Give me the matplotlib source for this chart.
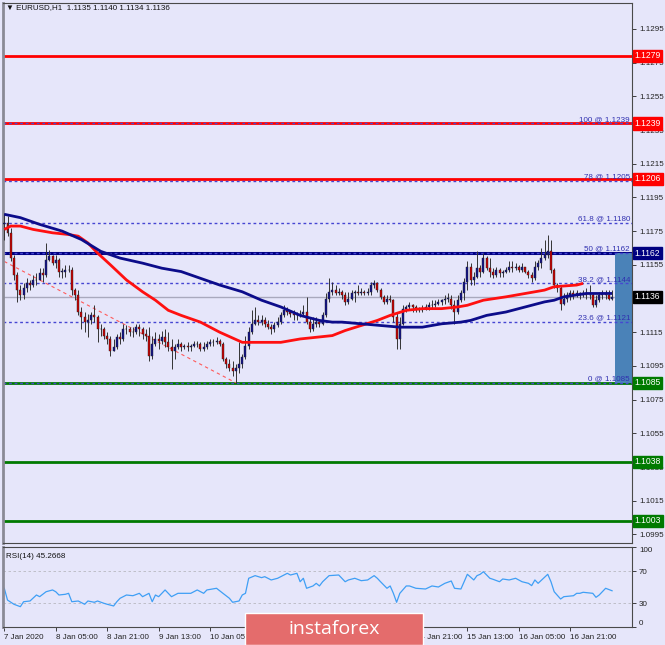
import numpy as np
import matplotlib
matplotlib.use("Agg")
import matplotlib.pyplot as plt
import matplotlib.transforms as mtransforms
from matplotlib.patches import Rectangle

plt.rcParams['font.family'] = ['Liberation Sans', 'DejaVu Sans']

# EURUSD H1 candles (open of each bar = previous close)
first_open = 1.1179
closes = [
    1.1180, 1.1174, 1.1159, 1.1149, 1.1140, 1.1137, 1.1141, 1.1144, 1.1143, 1.1146,
    1.1146, 1.1150, 1.1149, 1.1158, 1.1160, 1.1156, 1.1158, 1.1151, 1.1151, 1.1152,
    1.1152, 1.1140, 1.1137, 1.1127, 1.1124, 1.1121, 1.1122, 1.1125, 1.1124, 1.1117,
    1.1117, 1.1113, 1.1111, 1.1104, 1.1106, 1.1112, 1.1111, 1.1117, 1.1117, 1.1115,
    1.1115, 1.1118, 1.1117, 1.1114, 1.1113, 1.1101, 1.1108, 1.1111, 1.1110, 1.1112,
    1.1109, 1.1106, 1.1104, 1.1106, 1.1108, 1.1106, 1.1107, 1.1106, 1.1107, 1.1108,
    1.1108, 1.1105, 1.1106, 1.1108, 1.1109, 1.1109, 1.1110, 1.1108, 1.1099, 1.1096,
    1.1094, 1.1092, 1.1094, 1.1096, 1.1100, 1.1107, 1.1115, 1.1120, 1.1122, 1.1121,
    1.1122, 1.1120, 1.1118, 1.1117, 1.1119, 1.1121, 1.1125, 1.1128, 1.1127, 1.1126,
    1.1125, 1.1125, 1.1126, 1.1127, 1.1121, 1.1117, 1.1120, 1.1121, 1.1120, 1.1125,
    1.1135, 1.1139, 1.1140, 1.1138, 1.1139, 1.1137, 1.1133, 1.1135, 1.1138, 1.1139,
    1.1138, 1.1139, 1.1138, 1.1139, 1.1143, 1.1144, 1.1140, 1.1136, 1.1133, 1.1135,
    1.1134, 1.1124, 1.1111, 1.1120, 1.1129, 1.1130, 1.1131, 1.1130, 1.1128, 1.1128,
    1.1129, 1.1130, 1.1131, 1.1131, 1.1132, 1.1133, 1.1134, 1.1135, 1.1135, 1.1131,
    1.1127, 1.1134, 1.1138, 1.1145, 1.1154, 1.1146, 1.1148, 1.1153, 1.1151, 1.1159,
    1.1153, 1.1151, 1.1149, 1.1152, 1.1150, 1.1151, 1.1152, 1.1154, 1.1153, 1.1154,
    1.1152, 1.1154, 1.1151, 1.1149, 1.1147, 1.1154, 1.1156, 1.1159, 1.1161, 1.1163,
    1.1152, 1.1143, 1.1141, 1.1132, 1.1135, 1.1137, 1.1138, 1.1137, 1.1138, 1.1137,
    1.1138, 1.1137, 1.1137, 1.1131, 1.1134, 1.1137, 1.1138, 1.1137, 1.1135, 1.1136,
]
highs = [
    1.1186, 1.1184, 1.1177, 1.1161, 1.1151, 1.1143, 1.1144, 1.1147, 1.1146, 1.1149,
    1.1150, 1.1153, 1.1153, 1.1168, 1.1164, 1.1161, 1.1161, 1.1159, 1.1153, 1.1155,
    1.1155, 1.1154, 1.1141, 1.1140, 1.1130, 1.1127, 1.1126, 1.1127, 1.1131, 1.1125,
    1.1120, 1.1118, 1.1115, 1.1113, 1.1111, 1.1114, 1.1115, 1.1120, 1.1119, 1.1118,
    1.1118, 1.1120, 1.1120, 1.1118, 1.1117, 1.1118, 1.1113, 1.1115, 1.1114, 1.1116,
    1.1117, 1.1115, 1.1111, 1.1108, 1.1111, 1.1109, 1.1108, 1.1109, 1.1108, 1.1110,
    1.1110, 1.1109, 1.1109, 1.1110, 1.1111, 1.1111, 1.1112, 1.1111, 1.1109, 1.1100,
    1.1099, 1.1098, 1.1096, 1.1109, 1.1102, 1.1113, 1.1118, 1.1128, 1.1130, 1.1125,
    1.1125, 1.1124, 1.1122, 1.1120, 1.1121, 1.1124, 1.1127, 1.1131, 1.1130, 1.1128,
    1.1128, 1.1127, 1.1128, 1.1131, 1.1136, 1.1124, 1.1124, 1.1124, 1.1122, 1.1127,
    1.1138, 1.1147, 1.1145, 1.1143, 1.1141, 1.1140, 1.1139, 1.1139, 1.1140, 1.1140,
    1.1143, 1.1141, 1.1140, 1.1141, 1.1145, 1.1146, 1.1145, 1.1141, 1.1137, 1.1137,
    1.1137, 1.1135, 1.1127, 1.1124, 1.1131, 1.1131, 1.1133, 1.1132, 1.1131, 1.1130,
    1.1131, 1.1132, 1.1133, 1.1134, 1.1134, 1.1135, 1.1135, 1.1137, 1.1138, 1.1137,
    1.1134, 1.1137, 1.1140, 1.1147, 1.1157, 1.1156, 1.1151, 1.1163, 1.1155, 1.1162,
    1.1160, 1.1159, 1.1153, 1.1154, 1.1153, 1.1152, 1.1154, 1.1157, 1.1157, 1.1156,
    1.1155, 1.1156, 1.1154, 1.1152, 1.1151, 1.1157, 1.1158, 1.1165, 1.1170, 1.1173,
    1.1170, 1.1153, 1.1144, 1.1143, 1.1138, 1.1139, 1.1140, 1.1140, 1.1140, 1.1139,
    1.1140, 1.1141, 1.1143, 1.1138, 1.1137, 1.1139, 1.1140, 1.1140, 1.1140, 1.1140,
]
lows = [
    1.1170, 1.1172, 1.1157, 1.1146, 1.1133, 1.1134, 1.1135, 1.1139, 1.1140, 1.1142,
    1.1143, 1.1146, 1.1145, 1.1148, 1.1157, 1.1155, 1.1153, 1.1148, 1.1147, 1.1148,
    1.1151, 1.1137, 1.1134, 1.1125, 1.1117, 1.1115, 1.1112, 1.1120, 1.1121, 1.1109,
    1.1113, 1.1111, 1.1108, 1.1101, 1.1104, 1.1105, 1.1108, 1.1110, 1.1114, 1.1113,
    1.1112, 1.1114, 1.1113, 1.1111, 1.1110, 1.1098, 1.1099, 1.1107, 1.1105, 1.1108,
    1.1106, 1.1104, 1.1093, 1.1099, 1.1105, 1.1104, 1.1105, 1.1104, 1.1104, 1.1106,
    1.1106, 1.1104, 1.1104, 1.1105, 1.1107, 1.1107, 1.1108, 1.1107, 1.1098, 1.1094,
    1.1092, 1.1089, 1.1085, 1.1091, 1.1094, 1.1099, 1.1105, 1.1114, 1.1119, 1.1119,
    1.1119, 1.1118, 1.1117, 1.1114, 1.1115, 1.1118, 1.1120, 1.1124, 1.1125, 1.1124,
    1.1122, 1.1122, 1.1124, 1.1125, 1.1120, 1.1115, 1.1116, 1.1118, 1.1118, 1.1119,
    1.1124, 1.1133, 1.1137, 1.1137, 1.1137, 1.1135, 1.1131, 1.1132, 1.1134, 1.1133,
    1.1137, 1.1137, 1.1137, 1.1137, 1.1137, 1.1141, 1.1139, 1.1135, 1.1132, 1.1132,
    1.1133, 1.1121, 1.1105, 1.1105, 1.1119, 1.1127, 1.1128, 1.1127, 1.1127, 1.1127,
    1.1127, 1.1128, 1.1128, 1.1129, 1.1130, 1.1131, 1.1131, 1.1132, 1.1133, 1.1129,
    1.1120, 1.1126, 1.1133, 1.1134, 1.1140, 1.1143, 1.1143, 1.1147, 1.1148, 1.1150,
    1.1152, 1.1148, 1.1147, 1.1148, 1.1148, 1.1148, 1.1150, 1.1151, 1.1151, 1.1152,
    1.1151, 1.1151, 1.1150, 1.1147, 1.1145, 1.1146, 1.1152, 1.1153, 1.1158, 1.1159,
    1.1150, 1.1141, 1.1139, 1.1128, 1.1131, 1.1133, 1.1134, 1.1135, 1.1136, 1.1135,
    1.1136, 1.1135, 1.1135, 1.1130, 1.1130, 1.1133, 1.1135, 1.1135, 1.1134, 1.1134,
]

# moving averages (bar index, price)
red_ma_idx = [0, 2, 5, 9, 15, 20, 23, 26, 29, 33, 38, 43, 47, 51, 55, 61, 67, 74, 80,
              86, 92, 102, 106, 111, 116, 120, 125, 130, 136, 141, 144, 149, 156,
              162, 168, 171, 178, 180]
red_ma_val = [1.1176, 1.1178, 1.1178, 1.1176, 1.1174, 1.1173, 1.1172, 1.1168, 1.1162,
              1.1155, 1.1146, 1.1139, 1.1134, 1.1128, 1.1125, 1.1121, 1.1115, 1.1109,
              1.1109, 1.1109, 1.1111, 1.1113, 1.1116, 1.1119, 1.1122, 1.1125, 1.1128,
              1.1129, 1.1129, 1.1130, 1.1131, 1.1134, 1.1136, 1.1138, 1.1140, 1.1142,
              1.1143, 1.1144]
blue_ma_idx = [0, 5, 11, 18, 24, 30, 36, 43, 49, 55, 61, 67, 74, 80, 86, 92, 98, 102,
               105, 111, 117, 123, 130, 136, 142, 145, 150, 156, 162, 168, 171, 174,
               181, 189]
blue_ma_val = [1.1185, 1.1183, 1.1179, 1.1175, 1.1170, 1.1163, 1.1159, 1.1156, 1.1153,
               1.1151, 1.1147, 1.1143, 1.1139, 1.1134, 1.1130, 1.1125, 1.1122, 1.1121,
               1.1121, 1.1120, 1.1119, 1.1118, 1.1118, 1.1120, 1.1121, 1.1122, 1.1125,
               1.1127, 1.1130, 1.1133, 1.1134, 1.1136, 1.1138, 1.1138]

# RSI(14)
rsi_idx = [0, 1, 3, 5, 6, 8, 10, 11, 13, 15, 16, 17, 19, 20, 21, 23, 25, 26, 28, 29,
           31, 32, 34, 35, 36, 38, 40, 42, 43, 45, 46, 47, 48, 50, 52, 54, 58, 60, 62, 63,
           66, 68, 70, 71, 73, 74, 75, 76, 78, 80, 81, 83, 85, 88, 89, 91, 92, 93, 94, 96,
           97, 98, 99, 101, 104, 106, 107, 109, 111, 113, 115, 116, 117, 119, 120, 121,
           122, 123, 125, 126, 128, 131, 133, 135, 137, 139, 140, 142, 143, 144,
           146, 147, 148, 149, 151, 152, 154, 155, 157, 159, 161, 163, 164, 165, 166,
           169, 170, 171, 173, 174, 177, 178, 179, 180, 183, 184, 185, 187, 189]
rsi_val = [48.4, 33.7, 28.4, 25.4, 31.6, 32.5, 40, 37.9, 44.1, 46.3, 44.1, 40, 40.9, 42.1,
           31.6, 32.5, 28.4, 32.5, 30.9, 32.5, 29.6, 28.4, 26.3, 31.6, 35.9, 40, 39.1,
           42.1, 37.9, 42.1, 31.6, 40, 37.9, 46.3, 37.9, 42.1, 42.1, 46.3, 42.1, 46.3,
           48.4, 42.1, 35.9, 30.9, 32.5, 40, 42.1, 60.9, 64.2, 61.7, 62.9, 58.8, 60.9,
           67.1, 65, 67.1, 56.6, 60.9, 48.4, 51.3, 54.6, 51.3, 56.6, 64.2, 65, 56.6, 58.8,
           60.9, 57.9, 58.8, 64.2, 60.9, 56.6, 48.4, 51.3, 42.1, 30.9, 42.1, 51.3, 51.3,
           48.4, 47.5, 51.3, 50, 54.6, 57.5, 48.4, 47.5, 56.6, 65.9, 58.8, 64.2, 65.9,
           69.1, 60.9, 59.6, 56.6, 60, 58.8, 60.9, 56.6, 54.6, 51.7, 58.8, 54.6, 65.9,
           56.6, 44.1, 35, 37.9, 39.1, 42.1, 42.1, 43.4, 42.1, 37.1, 40, 48.4, 45.3]

# drawn objects
red_levels = [1.1279, 1.1239, 1.1206]
green_levels = [1.1085, 1.1038, 1.1003]
support_blue = 1.1162
last_price = 1.1136
fib_pct = ['100', '78', '61.8', '50', '38.2', '23.6', '0']
fib_price = [1.1239, 1.1205, 1.1180, 1.1162, 1.1144, 1.1121, 1.1085]
trend_idx = [0, 72]
trend_price = [1.1157, 1.1085]

time_idx = [0, 16, 32, 48, 64, 80, 96, 112, 128, 144, 160, 176]
time_labels = ['7 Jan 2020', '8 Jan 05:00', '8 Jan 21:00', '9 Jan 13:00', '10 Jan 05:00',
               '10 Jan 21:00', '13 Jan 13:00', '14 Jan 05:00', '14 Jan 21:00',
               '15 Jan 13:00', '16 Jan 05:00', '16 Jan 21:00']

bg = '#E6E6FA'
W, H = 665, 645
fs = 5.8
fig = plt.figure(figsize=(W / 100, H / 100), dpi=100, facecolor=bg)


def px_box(x0, y0, x1, y1):
    return [x0 / W, 1 - y1 / H, (x1 - x0) / W, (y1 - y0) / H]


ax = fig.add_axes(px_box(3, 3, 632, 543), facecolor=bg)
ax_rsi = fig.add_axes(px_box(3, 547, 632, 627), facecolor=bg)
trans = mtransforms.blended_transform_factory(ax.transAxes, ax.transData)

c = np.array(closes)
o = np.array([first_open] + closes[:-1])
x = np.arange(len(c))

# horizontal levels
ax.axhline(last_price, color='#a9a9bd', lw=1, zorder=1)
for p in red_levels:
    ax.axhline(p, color='#ff0000', lw=2, zorder=1.5)
for p in green_levels:
    ax.axhline(p, color='#007a00', lw=2, zorder=1.5)
ax.axhline(support_blue, color='#000080', lw=2.2, zorder=1.5)
for pct, p in zip(fib_pct, fib_price):
    ax.axhline(p, color='#4646d2', lw=1, ls=(0, (2, 2)), zorder=1.8)
    ax.text(0.997, p + 0.00003, f'{pct} @ {p:.4f}', transform=trans, ha='right',
            va='bottom', fontsize=fs, color='#3030b0', zorder=6)

ax.add_patch(Rectangle((0.973, fib_price[-1]), 0.027, fib_price[3] - fib_price[-1],
                       transform=trans, fc='#4a82b8', ec='none', zorder=1.6))
ax.plot(trend_idx, trend_price, color='#ff5a5a', lw=0.8, ls=(0, (3, 3)), zorder=2)

# candles
ax.vlines(x, lows, highs, color='#333333', lw=0.7, zorder=3)
body_col = np.where(c >= o, '#12128c', '#cc0000')
ax.bar(x, np.maximum(np.abs(c - o), 0.00002), bottom=np.minimum(o, c), width=0.62,
       color=body_col, edgecolor='#222222', lw=0.3, zorder=4)

ax.plot(red_ma_idx, red_ma_val, color='#ff1010', lw=2, zorder=5, solid_capstyle='butt')
ax.plot(blue_ma_idx, blue_ma_val, color='#0c0c8a', lw=2, zorder=5, solid_capstyle='butt')

# right-hand price tags
tags = [(p, '#ff0000') for p in red_levels] + [(p, '#007a00') for p in green_levels]
tags += [(support_blue, '#000080'), (last_price, '#000000')]
for p, col in tags:
    ax.text(1.004, p, f'{p:.4f}', transform=trans, ha='left', va='center', fontsize=fs + 0.4,
            color='white', zorder=7, clip_on=False,
            bbox=dict(boxstyle='square,pad=0.2', fc=col, ec=col))

ax.set_xlim(-0.4, 195.2)
ax.set_ylim(1.09899, 1.13104)
ax.yaxis.tick_right()
yt = np.round(np.arange(1.0995, 1.1296, 0.002), 4)
ax.set_yticks(yt)
# the tick hidden under the last-price tag is left blank
ax.set_yticklabels(['' if abs(v - 1.1135) < 1e-6 else f'{v:.4f}' for v in yt])
ax.tick_params(axis='y', labelsize=fs, length=3, pad=2, colors='#222222', width=0.6)
ax.set_xticks([])

fig.text(6 / W, 1 - 8 / H, '▼ EURUSD,H1  1.1135 1.1140 1.1134 1.1136', fontsize=fs,
         va='center', ha='left', color='#111111')

# RSI panel
ax_rsi.axhline(70, color='#b8b8c0', lw=0.6, ls=(0, (3, 3)))
ax_rsi.axhline(30, color='#b8b8c0', lw=0.6, ls=(0, (3, 3)))
ax_rsi.plot(rsi_idx, rsi_val, color='#3f9ff5', lw=0.9)
ax_rsi.set_xlim(-0.4, 195.2)
ax_rsi.set_ylim(0, 100)
ax_rsi.yaxis.tick_right()
ax_rsi.set_yticks([0, 30, 70, 100])
ax_rsi.tick_params(axis='y', labelsize=fs, length=3, pad=2, colors='#222222', width=0.6)
ylabs = ax_rsi.get_yticklabels()
ylabs[0].set_va('bottom')
ylabs[-1].set_va('top')
ax_rsi.set_xticks(time_idx)
ax_rsi.set_xticklabels(time_labels, ha='left')
ax_rsi.tick_params(axis='x', labelsize=fs, length=3, pad=2, colors='#222222', width=0.6)
ax_rsi.text(0.005, 0.93, 'RSI(14) 45.2668', transform=ax_rsi.transAxes, fontsize=fs,
            va='top', ha='left', color='#111111')

for a in (ax, ax_rsi):
    for s in a.spines.values():
        s.set_color('#4a4a4a')
        s.set_linewidth(0.8)
    a.spines['left'].set_color('#8a8a96')
    a.spines['left'].set_linewidth(2)

# watermark logo
fig.add_artist(Rectangle((245 / W, 0), 178 / W, 32 / H, transform=fig.transFigure,
                         fc='#e46c6c', ec='white', lw=1, zorder=10))
fig.text(334 / W, 16 / H, 'instaforex', fontsize=14, family='Open Sans', color='white',
         ha='center', va='center', zorder=11)

fig.savefig('out.png', dpi=100, facecolor=bg)
